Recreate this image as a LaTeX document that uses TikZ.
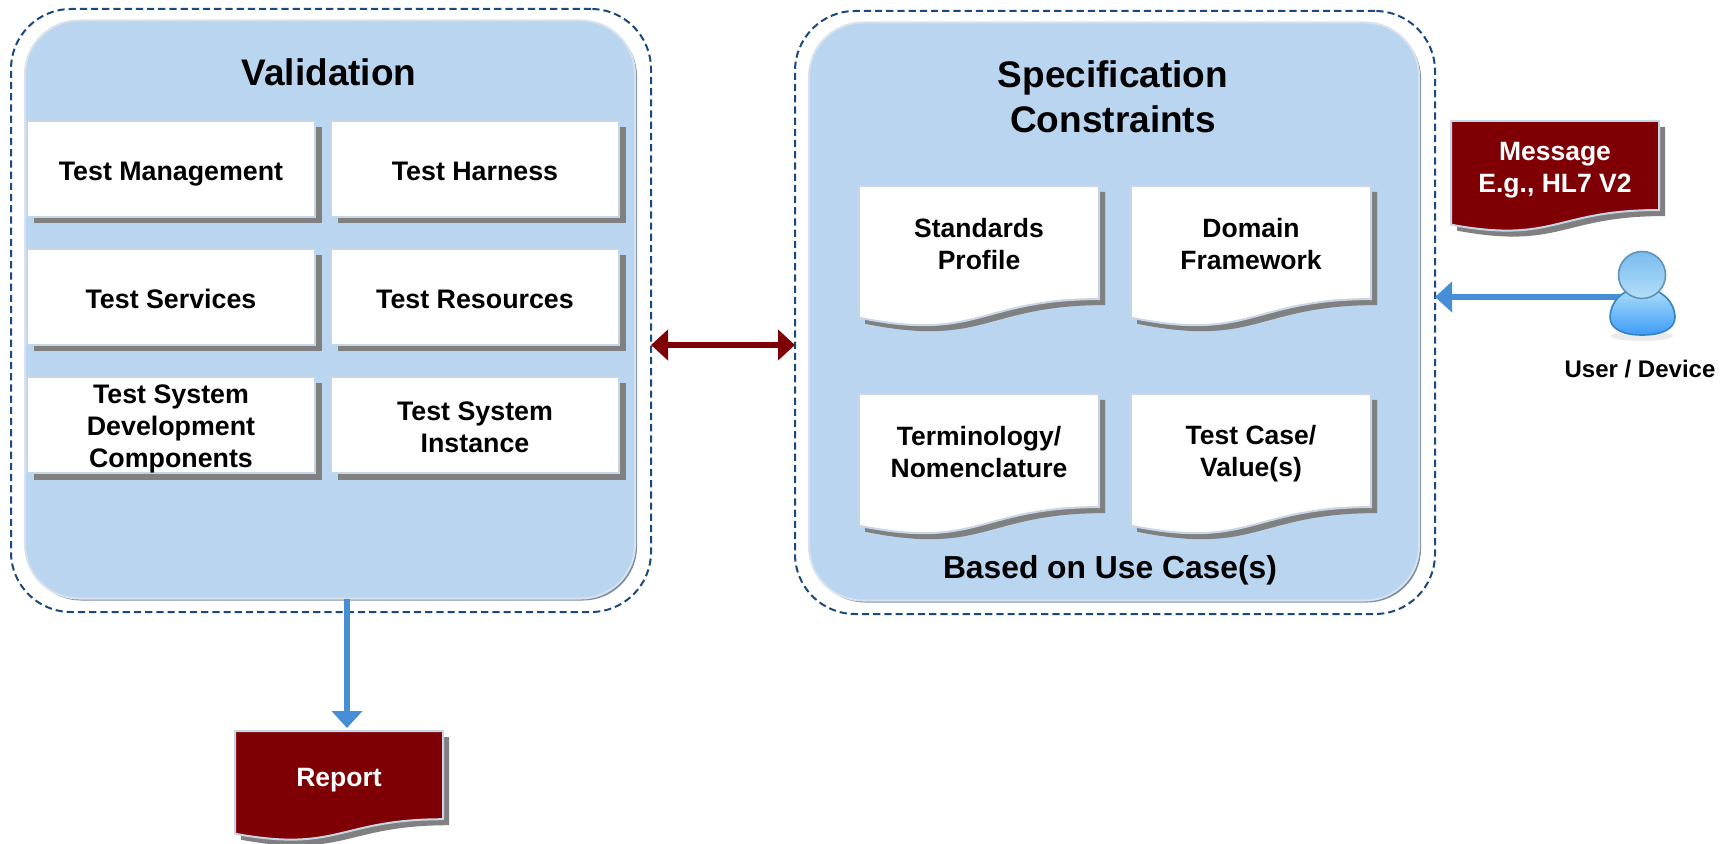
\documentclass[tikz,border=0pt]{standalone}
\usepackage{fontspec}
\setmainfont{Liberation Sans}
\usetikzlibrary{arrows.meta,shadows}

\definecolor{panelblue}{HTML}{BAD5F0}
\definecolor{paneledge}{HTML}{D9E2EC}
\definecolor{panelshadow}{HTML}{7C8DA6}
\definecolor{dashblue}{HTML}{1A4A7C}
\definecolor{boxedge}{HTML}{C6D6E6}
\definecolor{boxshadow}{HTML}{808080}
\definecolor{maroon}{HTML}{7F0004}
\definecolor{arrowblue}{HTML}{468FD6}
\definecolor{bodytop}{HTML}{AEE0FB}
\definecolor{bodymid}{HTML}{74C0F9}
\definecolor{bodylow}{HTML}{3E9CF7}
\definecolor{bodyedge}{HTML}{3382C6}
\definecolor{headtop}{HTML}{78BCEE}
\definecolor{headlow}{HTML}{B4DEF8}
\definecolor{headedge}{HTML}{5F93B8}
\definecolor{iconshade}{HTML}{EBEBEB}

\tikzset{
    panel/.style={draw=paneledge, line width=1pt, fill=panelblue, rounded corners=27pt, outer sep=0pt,
        general shadow={fill=panelshadow, shadow xshift=1pt, shadow yshift=-1pt}},
    outerline/.style={draw=dashblue, line width=1pt, dash pattern=on 3.6pt off 2pt, rounded corners=30pt, outer sep=0pt},
    testbox/.style={draw=boxedge, line width=1pt, fill=white, minimum width=144pt, minimum height=48pt, inner sep=0pt,
        align=center, font=\fontsize{13.4}{16}\selectfont\bfseries,
        general shadow={fill=boxshadow, shadow xshift=3.25pt, shadow yshift=-3.25pt}},
    oneline/.style={text height=11.7pt, text depth=0pt},
    doctext/.style={align=center, inner sep=0pt, outer sep=0pt, font=\fontsize{13.25}{16}\selectfont\bfseries},
    title/.style={align=center, inner sep=0pt, font=\fontsize{18.5}{22.5}\selectfont\bfseries},
    bluearrow/.style={draw=arrowblue, line width=3pt, -{Triangle[length=8.5pt,width=15pt]}},
    redarrow/.style={draw=maroon, line width=3pt, {Triangle[length=8.5pt,width=15pt]}-{Triangle[length=8.5pt,width=15pt]}}
}

% #1 fill, #2 text options, #3 name, #4 centre x, #5 top y, #6 width, #7 height, #8 text
\newcommand{\docbox}[8]{
    \fill[boxshadow, shift={({#4-#6/2+6},{#5+6})}]
        (0,0) -- (#6,0) -- (#6,{0.802*#7})
        .. controls ({#6/2},{0.802*#7}) and ({#6/2},{1.1075*#7}) .. (0,{0.934*#7}) -- cycle;
    \draw[boxedge, line width=1pt, fill=#1, shift={({#4-#6/2},#5)}]
        (0,0) -- (#6,0) -- (#6,{0.802*#7})
        .. controls ({#6/2},{0.802*#7}) and ({#6/2},{1.1075*#7}) .. (0,{0.934*#7}) -- cycle;
    \node[doctext, #2, anchor=north, minimum width=#6*0.5pt, minimum height=0.82*#7*0.5pt] (#3) at (#4,#5) {#8};
}

\begin{document}
\begin{tikzpicture}[x=0.5pt, y=-0.5pt]
    \useasboundingbox (0,0) rectangle (1729,844);

    % the two large panels
    \node[outerline, minimum width=320pt, minimum height=301.5pt] (validouter) at (331,310.5) {};
    \node[outerline, minimum width=320pt, minimum height=301.5pt] (specouter) at (1115,312.5) {};
    \node[panel, minimum width=305pt, minimum height=289pt] (validation) at (330,309.5) {};
    \node[panel, minimum width=305pt, minimum height=289pt] (spec) at (1114,311.5) {};

    \node[title] (validtitle) at (329,72) {Validation};
    \node[title] (spectitle) at (1113,96.5) {Specification\\Constraints};
    \node[title, font=\fontsize{15.9}{20}\selectfont\bfseries] (usecase) at (1110,570) {Based on Use Case(s)};

    % validation boxes
    \node[testbox, oneline] (management) at (171,169) {Test Management};
    \node[testbox, oneline] (harness) at (475,169) {Test Harness};
    \node[testbox, oneline] (services) at (171,297) {Test Services};
    \node[testbox, oneline] (resources) at (475,297) {Test Resources};
    \node[testbox, text height=45.4pt] (development) at (171,425) {Test System\\Development\\Components};
    \node[testbox, text height=27.2pt] (instance) at (475,425) {Test System\\Instance};

    % specification documents
    \docbox{white}{text=black}{standards}{979}{186}{240}{141}{Standards\\Profile}
    \docbox{white}{text=black}{domain}{1251}{186}{240}{141}{Domain\\Framework}
    \docbox{white}{text=black}{terminology}{979}{394}{240}{141}{Terminology/\\Nomenclature}
    \docbox{white}{text=black, text height=27.7pt}{testcase}{1251}{394}{240}{141}{Test Case/\\Value(s)}

    % outputs
    \docbox{maroon}{text=white, text height=28.8pt}{message}{1555}{121}{208}{111}{Message\\E.g., HL7 V2}
    \docbox{maroon}{text=white, text height=12.8pt}{report}{339}{731}{208}{110}{Report}

    % connectors
    \coordinate (linkport) at (723,345);
    \coordinate (reportport) at (347,728);
    \coordinate (userport) at (1630,297);
    \draw[redarrow] (validouter.east |- linkport) -- (specouter.west |- linkport);
    \draw[bluearrow] (validation.south -| reportport) -- (reportport);
    \draw[bluearrow] (userport) -- (specouter.east |- userport);

    % user icon
    \fill[iconshade] (1642,336) ellipse (31 and 5);
    \shade[draw=bodyedge, line width=0.8pt, top color=bodytop, middle color=bodymid, bottom color=bodylow]
        (1610,317) .. controls (1610,303) and (1622,288) .. (1642,288)
        .. controls (1662,288) and (1675,303) .. (1675,317)
        .. controls (1675,330) and (1660,335) .. (1642,335)
        .. controls (1625,335) and (1610,330) .. (1610,317) -- cycle;
    \node[circle, draw=headedge, line width=0.8pt, minimum size=23.5pt, inner sep=0pt,
        top color=headtop, bottom color=headlow] (userhead) at (1642,275) {};
    \node[inner sep=0pt, font=\fontsize{12}{14}\selectfont\bfseries] (user) at (1640,369) {User / Device};
\end{tikzpicture}
\end{document}
